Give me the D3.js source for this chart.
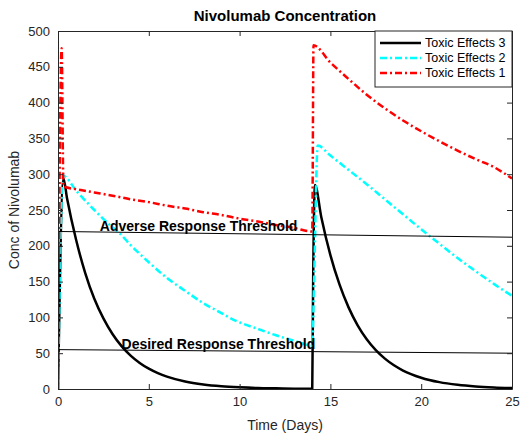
<!DOCTYPE html>
<html>
<head>
<meta charset="utf-8">
<script src="https://cdn.jsdelivr.net/npm/d3@7"></script>
<style>
  html, body { margin: 0; padding: 0; background: #fff; }
  svg { display: block; font-family: "Liberation Sans", Arial, Helvetica, sans-serif; }
</style>
</head>
<body>
<div id="chart"></div>
<script>
// Time points (days) and concentrations for each dosing scenario
const timeTox3 = [0, 0.3, 0.5, 1, 1.5, 2, 2.5, 3, 3.5, 4, 4.5, 5, 5.5, 6, 7, 8, 9, 10, 11, 12, 13, 14,
                  14.05, 14.15, 14.5, 15, 15.5, 16, 16.5, 17, 17.5, 18, 18.5, 19, 20, 21, 22, 23, 24, 25];
const concTox3 = [0, 294, 266, 208, 162, 126, 98.6, 76.9, 59.9, 46.7, 36.4, 28.4, 22.2, 17.3, 10.5, 6.4, 3.9, 2.4, 1.4, 0.9, 0.5, 0.3,
                  150, 285, 240, 187, 146, 114, 89, 69.5, 54.3, 42.4, 33.1, 25.8, 15.8, 9.6, 5.9, 3.6, 2.2, 1.3];

const timeTox2 = [0, 0.28, 1, 2, 3, 3.25, 4, 5, 6, 7, 8, 9, 9.64, 10, 11, 12, 13, 14,
                  14.1, 14.3, 15, 16, 17, 18, 19, 20, 21, 22, 23, 24, 25];
const concTox2 = [0, 298, 277, 250, 226, 221, 201, 177, 155, 137, 120, 106, 97, 93, 84, 75, 67.5, 60.5,
                  150, 340, 326, 306, 286, 265, 244, 223, 203, 183, 164.5, 146.8, 130];

const timeTox1 = [0, 0.2, 0.3, 1, 2, 3, 4, 5, 6, 7, 8, 9, 10, 11, 12, 13, 14,
                  14.07, 15, 16, 17, 18, 19, 20, 21, 22, 23, 24, 25];
const concTox1 = [0, 476, 283, 279, 274.5, 270, 265, 261, 256, 252, 247, 243, 238, 234, 229, 225, 220,
                  480, 456, 433, 411, 392, 375, 360, 346, 333, 321, 310, 294];

// Response thresholds: value at start and end of the time window
const thresholdNames = ["Adverse Response Threshold", "Desired Response Threshold"];
const thresholdStart = [220, 55];
const thresholdEnd = [212, 50];
const thresholdLabelTime = [2.3, 3.5];

const seriesNames = ["Toxic Effects 3", "Toxic Effects 2", "Toxic Effects 1"];
const xTicks = [0, 5, 10, 15, 20, 25];
const yTicks = [0, 50, 100, 150, 200, 250, 300, 350, 400, 450, 500];

const W = 523, H = 437;
const margin = { top: 31, right: 11, bottom: 48, left: 58 };
const iw = W - margin.left - margin.right;
const ih = H - margin.top - margin.bottom;

const x = d3.scaleLinear().domain([0, 25]).range([0, iw]);
const y = d3.scaleLinear().domain([0, 500]).range([ih, 0]);

const svg = d3.select("#chart").append("svg").attr("width", W).attr("height", H);
const g = svg.append("g").attr("transform", `translate(${margin.left},${margin.top})`);

const axisColor = "#262626";

// Clip so curves stay inside the axes box
svg.append("defs").append("clipPath").attr("id", "plotClip")
  .append("rect").attr("x", 0).attr("y", 0).attr("width", iw).attr("height", ih);

const plot = g.append("g").attr("clip-path", "url(#plotClip)");

const series = [
  { name: seriesNames[0], t: timeTox3, c: concTox3, color: "#000000", dash: null },
  { name: seriesNames[1], t: timeTox2, c: concTox2, color: "#00ffff", dash: "7,3,2,3" },
  { name: seriesNames[2], t: timeTox1, c: concTox1, color: "#ff0000", dash: "7,3,2,3" }
];

const line = d3.line().x(d => x(d[0])).y(d => y(d[1])).curve(d3.curveMonotoneX);

series.forEach(s => {
  const pts = s.t.map((t, i) => [t, s.c[i]]);
  plot.append("path")
    .datum(pts)
    .attr("d", line)
    .attr("fill", "none")
    .attr("stroke", s.color)
    .attr("stroke-width", 2.5)
    .attr("stroke-dasharray", s.dash)
    .attr("stroke-linejoin", "round");
});

// Threshold lines with labels
thresholdNames.forEach((name, i) => {
  g.append("line")
    .attr("x1", x(0)).attr("y1", y(thresholdStart[i]))
    .attr("x2", x(25)).attr("y2", y(thresholdEnd[i]))
    .attr("stroke", "#000").attr("stroke-width", 1);
  const tl = thresholdLabelTime[i];
  const vAt = thresholdStart[i] + (thresholdEnd[i] - thresholdStart[i]) * tl / 25;
  g.append("text")
    .attr("x", x(tl)).attr("y", y(vAt) - 1)
    .attr("font-size", 14).attr("font-weight", "bold")
    .attr("fill", "#000")
    .text(name);
});

// Axes box
const xAxisB = d3.axisBottom(x).tickValues(xTicks).tickSizeInner(-5).tickSizeOuter(0).tickPadding(8);
const xAxisT = d3.axisTop(x).tickValues(xTicks).tickSizeInner(-5).tickSizeOuter(0).tickFormat("");
const yAxisL = d3.axisLeft(y).tickValues(yTicks).tickSizeInner(-5).tickSizeOuter(0).tickPadding(8);
const yAxisR = d3.axisRight(y).tickValues(yTicks).tickSizeInner(-5).tickSizeOuter(0).tickFormat("");

function styleAxis(sel) {
  sel.selectAll("path").attr("stroke", axisColor).attr("stroke-width", 1);
  sel.selectAll("line").attr("stroke", axisColor).attr("stroke-width", 1);
  sel.selectAll("text").attr("fill", axisColor).attr("font-size", 13)
    .attr("font-family", "Liberation Sans, Arial, sans-serif");
}
g.append("g").attr("transform", `translate(0,${ih})`).call(xAxisB).call(styleAxis);
g.append("g").call(xAxisT).call(styleAxis);
g.append("g").call(yAxisL).call(styleAxis);
g.append("g").attr("transform", `translate(${iw},0)`).call(yAxisR).call(styleAxis);

// Title and axis labels
svg.append("text")
  .attr("x", margin.left + iw / 2).attr("y", 21)
  .attr("text-anchor", "middle").attr("font-size", 15).attr("font-weight", "bold")
  .attr("fill", "#000").text("Nivolumab Concentration");

svg.append("text")
  .attr("x", margin.left + iw / 2).attr("y", 430)
  .attr("text-anchor", "middle").attr("font-size", 14)
  .attr("fill", axisColor).text("Time (Days)");

svg.append("text")
  .attr("transform", `translate(19,${margin.top + ih / 2}) rotate(-90)`)
  .attr("text-anchor", "middle").attr("font-size", 14)
  .attr("fill", axisColor).text("Conc of Nivolumab");

// Legend
const lg = g.append("g").attr("transform", `translate(${iw - 137},0)`);
lg.append("rect").attr("x", 0).attr("y", 0).attr("width", 137).attr("height", 56)
  .attr("fill", "#fff").attr("stroke", axisColor).attr("stroke-width", 1);
series.forEach((s, i) => {
  const ly = 12 + i * 15;
  lg.append("line")
    .attr("x1", 5).attr("x2", 46).attr("y1", ly).attr("y2", ly)
    .attr("stroke", s.color).attr("stroke-width", 2.5)
    .attr("stroke-dasharray", s.dash);
  lg.append("text")
    .attr("x", 50).attr("y", ly + 4)
    .attr("font-size", 12.5).attr("fill", "#000")
    .text(s.name);
});
</script>
</body>
</html>
